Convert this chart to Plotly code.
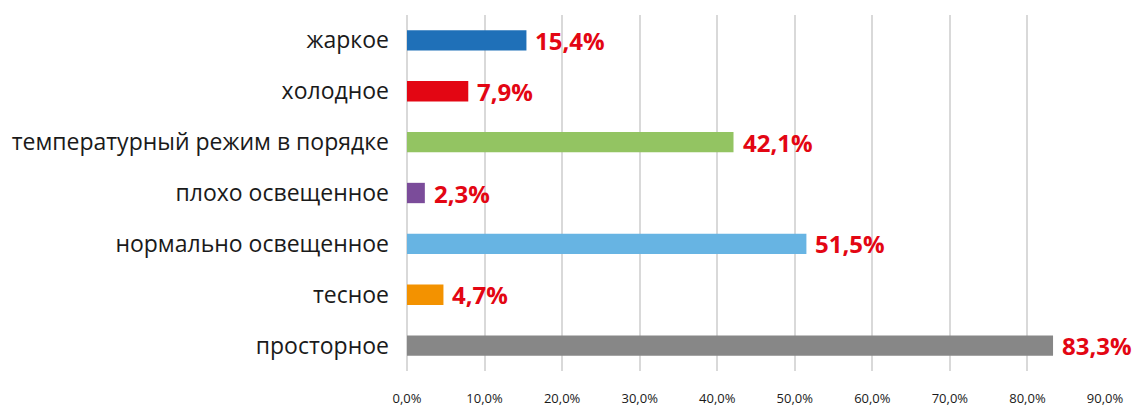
import plotly.graph_objects as go

categories = ["жаркое", "холодное", "температурный режим в порядке", "плохо освещенное",
              "нормально освещенное", "тесное", "просторное"]
values = [15.4, 7.9, 42.1, 2.3, 51.5, 4.7, 83.3]
colors = ["#1F70B8", "#E30613", "#93C462", "#7B4C9A", "#67B4E3", "#F39200", "#878787"]
tick_vals = [0, 10, 20, 30, 40, 50, 60, 70, 80, 90]

labels = [f"{v:.1f}%".replace(".", ",") for v in values]
tick_text = [f"{t:.1f}%".replace(".", ",") for t in tick_vals]

fig = go.Figure(go.Bar(
    x=values, y=categories, orientation="h",
    marker=dict(color=colors, line=dict(width=0)),
    width=0.4, cliponaxis=False,
))

for v, c, lab in zip(values, categories, labels):
    fig.add_annotation(
        x=v, y=c, text=lab, showarrow=False, xanchor="left", yanchor="middle",
        xshift=7, font=dict(family="Open Sans", size=24, color="#E30613", weight="bold"),
    )

fig.update_layout(
    width=1133, height=408,
    margin=dict(l=407, r=28, t=15, b=37),
    plot_bgcolor="white", paper_bgcolor="white",
    showlegend=False,
    font=dict(family="Open Sans", color="#1a1a1a"),
)
fig.update_xaxes(
    range=[0, 90], tickvals=tick_vals, ticktext=tick_text, automargin=False,
    showgrid=True, gridcolor="#D9D9D9", gridwidth=2,
    zeroline=True, zerolinecolor="#D9D9D9", zerolinewidth=2,
    tickfont=dict(size=13, color="#1a1a1a"), ticklabelstandoff=18,
    showline=False,
)
fig.update_yaxes(
    categoryorder="array", categoryarray=categories[::-1], automargin=False,
    tickfont=dict(size=23, color="#1a1a1a"), ticklabelstandoff=17,
    showgrid=False, showline=False,
)

fig.write_html("out.html", config={"displayModeBar": False},
               post_script="document.body.style.margin='0';document.body.style.overflow='hidden';")
